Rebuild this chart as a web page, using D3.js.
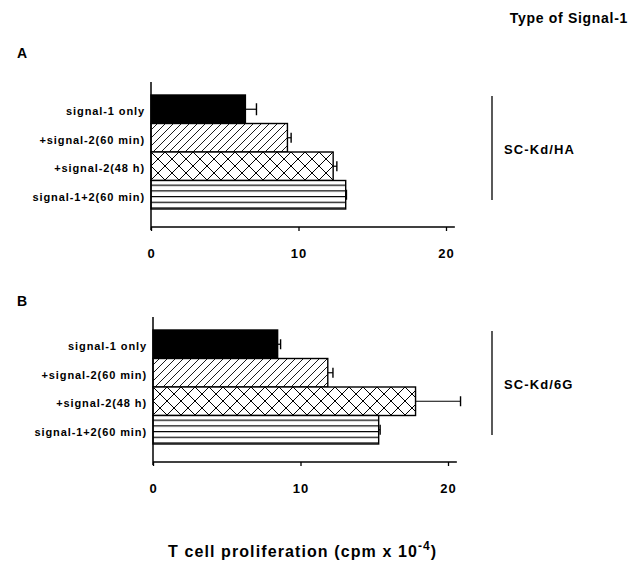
<!DOCTYPE html>
<html>
<head>
<meta charset="utf-8">
<script src="https://cdn.jsdelivr.net/npm/d3@7"></script>
<style>
  body { margin: 0; background: #fff; }
  svg { display: block; font-family: "Liberation Sans", Arial, sans-serif; font-weight: bold; }
</style>
</head>
<body>
<div id="chart"></div>
<script>
// Data
const categories = ["signal-1 only", "+signal-2(60 min)", "+signal-2(48 h)", "signal-1+2(60 min)"];
const valuesA = [6.4, 9.25, 12.35, 13.2];
const errorsA = [0.75, 0.25, 0.25, 0.05];
const valuesB = [8.45, 11.85, 17.8, 15.3];
const errorsB = [0.2, 0.35, 3.05, 0.1];
const xTicks = [0, 10, 20];
const panelNames = ["A", "B"];
const signalTypes = ["SC-Kd/HA", "SC-Kd/6G"];

let width = 632,
    height = 567;

let svg = d3.select("#chart")
    .append("svg")
    .attr("width", width)
    .attr("height", height);

// Fill patterns
const defs = svg.append("defs");

let diag = defs.append("pattern")
    .attr("id", "diag")
    .attr("patternUnits", "userSpaceOnUse")
    .attr("width", 8).attr("height", 8);
diag.append("rect").attr("width", 8).attr("height", 8).attr("fill", "#fff");
diag.append("path")
    .attr("d", "M-2,10 L10,-2 M-2,2 L2,-2 M6,10 L10,6")
    .attr("stroke", "#000").attr("stroke-width", 0.9);

let cross = defs.append("pattern")
    .attr("id", "cross")
    .attr("patternUnits", "userSpaceOnUse")
    .attr("width", 14).attr("height", 14);
cross.append("rect").attr("width", 14).attr("height", 14).attr("fill", "#fff");
cross.append("path")
    .attr("d", "M0,0 L14,14 M14,0 L0,14")
    .attr("stroke", "#000").attr("stroke-width", 1);

let horiz = defs.append("pattern")
    .attr("id", "horiz")
    .attr("patternUnits", "userSpaceOnUse")
    .attr("width", 20).attr("height", 5.7);
horiz.append("rect").attr("width", 20).attr("height", 5.7).attr("fill", "#fff");
horiz.append("line")
    .attr("x1", 0).attr("x2", 20).attr("y1", 0.6).attr("y2", 0.6)
    .attr("stroke", "#000").attr("stroke-width", 1.2);

const fills = ["#000", "url(#diag)", "url(#cross)", "url(#horiz)"];

// Header
svg.append("text")
    .attr("x", 628)
    .attr("y", 23)
    .attr("text-anchor", "end")
    .attr("font-size", 14)
    .attr("letter-spacing", 0.7)
    .text("Type of Signal-1");

const x = d3.scaleLinear()
    .domain([0, 20])
    .range([0, 295]);

const y = d3.scaleBand()
    .domain(categories)
    .range([13, 127])
    .padding(0);

function drawPanel(px, py, labelY, values, errors, name, sigType) {
    let g = svg.append("g").attr("transform", `translate(${px},${py})`);
    let axisH = 145;

    svg.append("text")
        .attr("x", 17)
        .attr("y", labelY)
        .attr("font-size", 14)
        .text(name);

    // bars
    g.selectAll("rect.bar")
        .data(categories)
        .enter()
        .append("rect")
        .attr("class", "bar")
        .attr("x", 0)
        .attr("y", d => y(d))
        .attr("width", (d, i) => x(values[i]))
        .attr("height", y.bandwidth())
        .attr("fill", (d, i) => fills[i])
        .attr("stroke", "#000")
        .attr("stroke-width", 1.4);

    // error bars
    categories.forEach((c, i) => {
        let cy = y(c) + y.bandwidth() / 2;
        let capH = i === 0 && name === "A" ? 12 : 10;
        g.append("line")
            .attr("x1", x(values[i])).attr("x2", x(values[i] + errors[i]))
            .attr("y1", cy).attr("y2", cy)
            .attr("stroke", "#000").attr("stroke-width", 1.2);
        g.append("line")
            .attr("x1", x(values[i] + errors[i])).attr("x2", x(values[i] + errors[i]))
            .attr("y1", cy - capH / 2).attr("y2", cy + capH / 2)
            .attr("stroke", "#000").attr("stroke-width", 1.4);
    });

    // y axis (line and category labels)
    g.append("line")
        .attr("x1", 0).attr("x2", 0)
        .attr("y1", 0).attr("y2", axisH + 3)
        .attr("stroke", "#000").attr("stroke-width", 1.5);

    g.selectAll("text.cat")
        .data(categories)
        .enter()
        .append("text")
        .attr("class", "cat")
        .attr("x", -6)
        .attr("y", d => y(d) + y.bandwidth() / 2 + 6)
        .attr("text-anchor", "end")
        .attr("font-size", 11)
        .attr("letter-spacing", 0.9)
        .text(d => d);

    // x axis
    let xAxis = g.append("g")
        .attr("transform", `translate(0,${axisH})`)
        .call(d3.axisBottom(x).tickValues(xTicks).tickSize(4).tickSizeOuter(0));
    xAxis.select(".domain")
        .attr("d", `M0,0H${x(20.6)}`)
        .attr("stroke-width", 1.5);
    xAxis.selectAll(".tick line").attr("stroke-width", 1.3);
    xAxis.selectAll(".tick text")
        .attr("y", 31)
        .attr("dy", 0)
        .attr("font-size", 13)
        .attr("font-family", "Liberation Sans, Arial, sans-serif")
        .attr("font-weight", "bold")
        .attr("letter-spacing", 1);

    // bracket for signal type
    svg.append("line")
        .attr("x1", 492).attr("x2", 492)
        .attr("y1", py + 14).attr("y2", py + 118)
        .attr("stroke", "#000").attr("stroke-width", 1.3);
    svg.append("text")
        .attr("x", 504)
        .attr("y", py + 72)
        .attr("font-size", 13)
        .attr("letter-spacing", 1.1)
        .text(sigType);
}

drawPanel(151, 82, 58, valuesA, errorsA, panelNames[0], signalTypes[0]);
drawPanel(153, 317, 306, valuesB, errorsB, panelNames[1], signalTypes[1]);

// x axis title
let title = svg.append("text")
    .attr("x", 168)
    .attr("y", 557)
    .attr("font-size", 16)
    .attr("letter-spacing", 1.1)
    .text("T cell proliferation (cpm x 10");
title.append("tspan")
    .attr("dy", -7)
    .attr("font-size", 12)
    .text("-4");
title.append("tspan")
    .attr("dy", 7)
    .text(")");
</script>
</body>
</html>
